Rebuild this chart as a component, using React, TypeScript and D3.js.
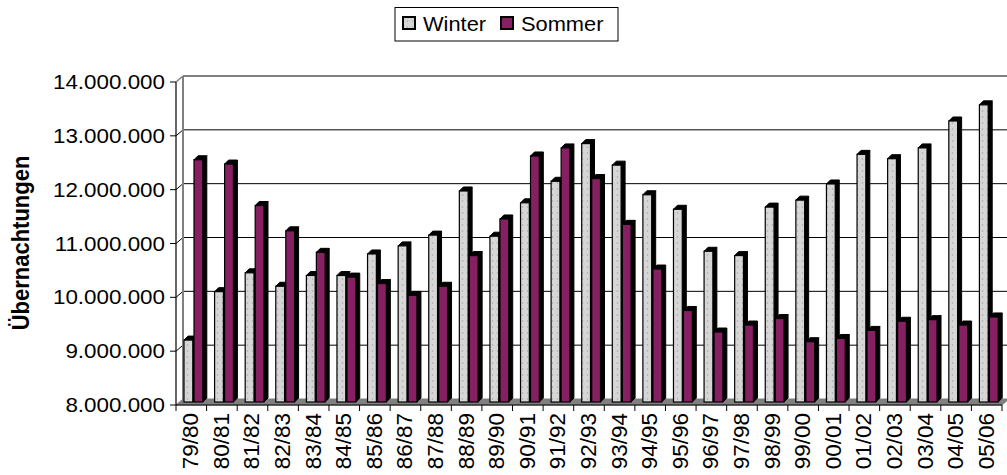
import React from "react";
import * as d3 from "d3";

const categories = ["79/80","80/81","81/82","82/83","83/84","84/85","85/86","86/87","87/88","88/89","89/90","90/91","91/92","92/93","93/94","94/95","95/96","96/97","97/98","98/99","99/00","00/01","01/02","02/03","03/04","04/05","05/06"];
const winter = [9.15,10.05,10.4,10.15,10.35,10.35,10.75,10.9,11.1,11.92,11.08,11.7,12.1,12.8,12.4,11.85,11.58,10.8,10.72,11.62,11.75,12.05,12.6,12.52,12.72,13.22,13.52].map(v => v * 1e6);
const sommer = [12.5,12.42,11.65,11.18,10.78,10.32,10.2,9.98,10.15,10.72,11.4,12.57,12.72,12.15,11.3,10.47,9.7,9.3,9.43,9.55,9.12,9.18,9.33,9.5,9.53,9.43,9.58].map(v => v * 1e6);
const yTicks = [8e6, 9e6, 10e6, 11e6, 12e6, 13e6, 14e6];
const seriesNames = ["Winter", "Sommer"];

const W = 1007, H = 475;
const FONT = "Arial, 'Liberation Sans', sans-serif";
const PURPLE = "#862062";
const SX = 1.12;

export default function App() {
  const x0 = 176, x1 = 1002;
  const yTop = 82, yBot = 405;
  const DX = 7, DY = -6;
  const y = d3.scaleLinear().domain([8e6, 14e6]).range([yBot, yTop]);
  const x = d3.scaleBand<string>().domain(categories).range([x0, x1]).padding(0);
  const fmt = (v: number) => d3.format(",")(v).replace(/,/g, ".");
  const bw = 8.8, bOff = 8, bGap = 1.2, bd = 4;
  const midShift = 3;

  const bars: JSX.Element[] = [];
  categories.forEach((c, i) => {
    [winter[i], sommer[i]].forEach((v, s) => {
      const bx = (x(c) as number) + bOff + s * (bw + bGap);
      const yb = y(8e6) - midShift;
      const yt = y(v) - midShift;
      const fill = s === 0 ? "url(#dots)" : PURPLE;
      bars.push(
        <g key={c + s}>
          <polygon points={`${bx + bw},${yb} ${bx + bw + bd},${yb - bd} ${bx + bw + bd},${yt - bd} ${bx + bw},${yt}`} fill="#000" stroke="#000" strokeWidth={1} />
          <polygon points={`${bx},${yt} ${bx + bd},${yt - bd} ${bx + bw + bd},${yt - bd} ${bx + bw},${yt}`} fill="#000" stroke="#000" strokeWidth={1} />
          <rect x={bx} y={yt} width={bw} height={yb - yt} fill={fill} stroke="#000" strokeWidth={1.2} />
        </g>
      );
    });
  });

  return (
    <svg width={W} height={H} style={{ display: "block", position: "absolute", left: 0, top: 0 }}>
      <defs>
        <pattern id="dots" width="5" height="6" patternUnits="userSpaceOnUse">
          <rect width="5" height="6" fill="#d6d6d6" />
          <circle cx="2.5" cy="3" r="0.8" fill="#a8a8a8" />
        </pattern>
      </defs>
      <rect width={W} height={H} fill="#fff" />
      {yTicks.slice(1, -1).map(t => (
        <g key={t}>
          <line x1={x0 + DX} x2={W} y1={y(t) + DY} y2={y(t) + DY} stroke="#000" strokeWidth={1} />
          <line x1={x0} x2={x0 + DX} y1={y(t)} y2={y(t) + DY} stroke="#000" strokeWidth={1} />
        </g>
      ))}
      <line x1={x0 + DX} x2={W} y1={yTop + DY} y2={yTop + DY} stroke="#808080" strokeWidth={2} />
      <line x1={x0 + DX} x2={x0 + DX} y1={yTop + DY} y2={yBot + DY} stroke="#808080" strokeWidth={2} />
      <line x1={x0} x2={x0 + DX} y1={yTop} y2={yTop + DY} stroke="#808080" strokeWidth={1.5} />
      <polygon points={`${x0},${yBot} ${x1},${yBot} ${x1 + DX},${yBot + DY} ${x0 + DX},${yBot + DY}`} fill="#808080" stroke="#808080" />
      {bars}
      <line x1={x0} x2={x0} y1={yTop} y2={yBot} stroke="#000" strokeWidth={1.2} />
      <line x1={x0} x2={x1} y1={yBot} y2={yBot} stroke="#000" strokeWidth={1.2} />
      {yTicks.map(t => (
        <g key={"yt" + t}>
          <line x1={x0 - 6} x2={x0} y1={y(t)} y2={y(t)} stroke="#000" />
          <g transform={`translate(165,${y(t) + 7}) scale(${SX},1)`}>
            <text textAnchor="end" fontFamily={FONT} fontSize={20} fill="#000">{fmt(t)}</text>
          </g>
        </g>
      ))}
      {categories.map((c, i) => (
        <line key={"xt" + c} x1={x0 + i * x.bandwidth()} x2={x0 + i * x.bandwidth()} y1={yBot} y2={yBot + 6} stroke="#000" />
      ))}
      <line x1={x1} x2={x1} y1={yBot} y2={yBot + 6} stroke="#000" />
      {categories.map(c => (
        <g key={"xl" + c} transform={`translate(${(x(c) as number) + x.bandwidth() / 2 + 7},413) rotate(-90)`}>
          <text textAnchor="end" fontFamily={FONT} fontSize={22.5} fill="#000">{c}</text>
        </g>
      ))}
      <g transform={`translate(29,243) scale(${SX},1) rotate(-90)`}>
        <text textAnchor="middle" fontFamily={FONT} fontSize={22} fontWeight="bold" fill="#000">Übernachtungen</text>
      </g>
      <rect x={395} y={7.5} width={223} height={33.5} fill="#fff" stroke="#000" strokeWidth={1} />
      {seriesNames.map((n, i) => {
        const lx = i === 0 ? 403 : 501;
        return (
          <g key={n}>
            <rect x={lx} y={17} width={12} height={12} fill={i === 0 ? "url(#dots)" : PURPLE} stroke="#000" strokeWidth={2} />
            <g transform={`translate(${lx + 20},31) scale(${SX},1)`}>
              <text fontFamily={FONT} fontSize={19.5} fill="#000">{n}</text>
            </g>
          </g>
        );
      })}
    </svg>
  );
}
